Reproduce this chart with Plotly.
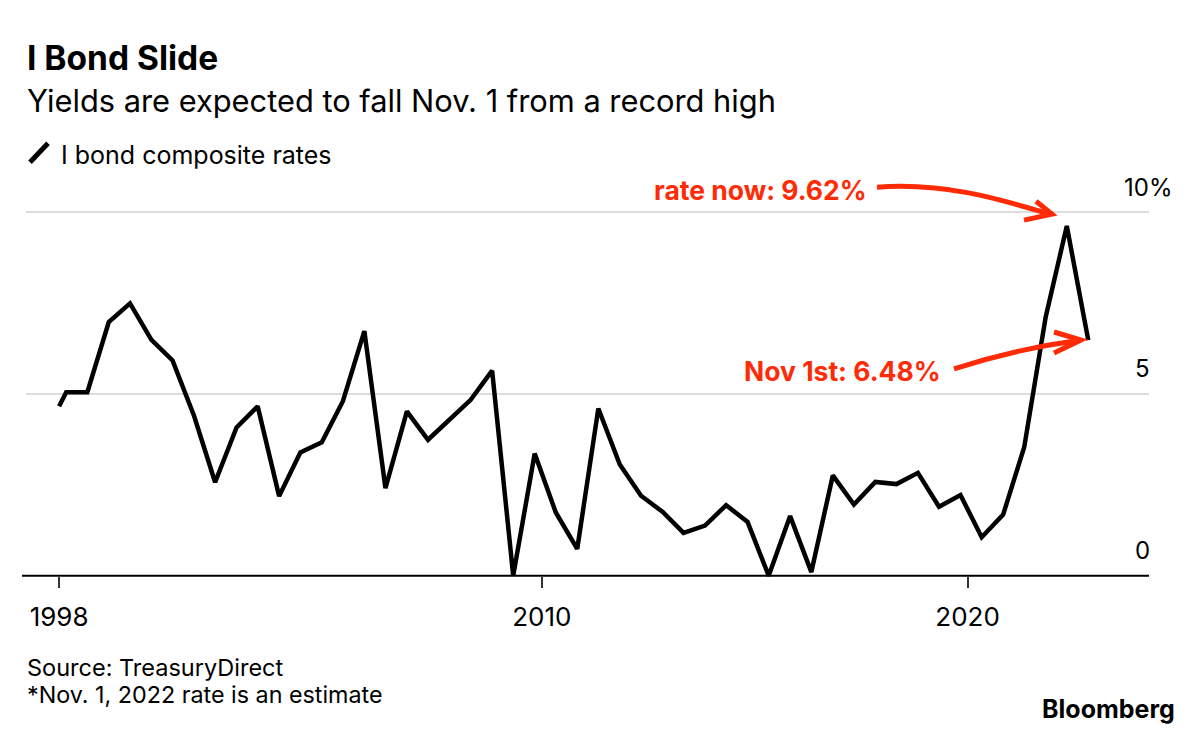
import plotly.graph_objects as go

# ---------------- data ----------------
dates = [
    "1998-09-01", "1998-11-01",
    "1999-05-01", "1999-11-01", "2000-05-01", "2000-11-01",
    "2001-05-01", "2001-11-01", "2002-05-01", "2002-11-01",
    "2003-05-01", "2003-11-01", "2004-05-01", "2004-11-01",
    "2005-05-01", "2005-11-01", "2006-05-01", "2006-11-01",
    "2007-05-01", "2007-11-01", "2008-05-01", "2008-11-01",
    "2009-05-01", "2009-11-01", "2010-05-01", "2010-11-01",
    "2011-05-01", "2011-11-01", "2012-05-01", "2012-11-01",
    "2013-05-01", "2013-11-01", "2014-05-01", "2014-11-01",
    "2015-05-01", "2015-11-01", "2016-05-01", "2016-11-01",
    "2017-05-01", "2017-11-01", "2018-05-01", "2018-11-01",
    "2019-05-01", "2019-11-01", "2020-05-01", "2020-11-01",
    "2021-05-01", "2021-11-01", "2022-05-01", "2022-11-01",
]
rates = [
    4.66, 5.05,
    5.05, 6.98, 7.49, 6.49,
    5.92, 4.40, 2.57, 4.08,
    4.66, 2.19, 3.39, 3.67,
    4.80, 6.73, 2.41, 4.52,
    3.74, 4.28, 4.84, 5.64,
    0.00, 3.36, 1.74, 0.74,
    4.60, 3.06, 2.20, 1.76,
    1.18, 1.38, 1.94, 1.48,
    0.00, 1.64, 0.10, 2.76,
    1.96, 2.58, 2.52, 2.83,
    1.90, 2.22, 1.06, 1.68,
    3.54, 7.12, 9.62, 6.48,
]
x_tick_vals = ["1998-09-01", "2010-01-01", "2020-01-01"]
x_tick_text = ["1998", "2010", "2020"]
y_tick_vals = [0, 5, 10]
y_tick_text = ["0", "5", "10%"]

FONT = "Inter"
RED = "#ff2a06"

# ---------------- layout geometry (pixels) ----------------
W, H = 1200, 731
L, R = 26, 1149          # plot left/right
TOP, BOT = 193.8, 583.3  # plot top/bottom
Y0, Y1 = -0.2, 10.5


def px(xp):
    return (xp - L) / (R - L)


def py(yp):
    return (BOT - yp) / (BOT - TOP)


fig = go.Figure()
fig.add_trace(go.Scatter(
    x=dates, y=rates, mode="lines",
    line=dict(color="black", width=4.5),
    name="I bond composite rates", showlegend=False,
    hoverinfo="x+y",
))

annotations = []
# title / subtitle / legend / footer
annotations.append(dict(text="<b>I Bond Slide</b>", x=px(25), y=py(58), xref="paper", yref="paper",
                        xanchor="left", yanchor="middle", showarrow=False,
                        font=dict(family=FONT, size=33.5, color="black")))
annotations.append(dict(text="Yields are expected to fall Nov. 1 from a record high", x=px(25), y=py(100),
                        xref="paper", yref="paper", xanchor="left", yanchor="middle", showarrow=False,
                        font=dict(family=FONT, size=30.8, color="black")))
annotations.append(dict(text="I bond composite rates", x=px(59), y=py(155), xref="paper", yref="paper",
                        xanchor="left", yanchor="middle", showarrow=False,
                        font=dict(family=FONT, size=25, color="black")))
annotations.append(dict(text="Source: TreasuryDirect", x=px(25), y=py(668), xref="paper", yref="paper",
                        xanchor="left", yanchor="middle", showarrow=False,
                        font=dict(family=FONT, size=23.5, color="black")))
annotations.append(dict(text="*Nov. 1, 2022 rate is an estimate", x=px(25), y=py(695), xref="paper", yref="paper",
                        xanchor="left", yanchor="middle", showarrow=False,
                        font=dict(family=FONT, size=23.3, color="black")))
annotations.append(dict(text="<b>Bloomberg</b>", x=px(1177), y=py(709), xref="paper", yref="paper",
                        xanchor="right", yanchor="middle", showarrow=False,
                        font=dict(family=FONT, size=25, color="black")))

# y-axis labels (right side, above gridlines)
for v, t in zip(y_tick_vals, y_tick_text):
    if t.endswith("%"):
        ann = dict(text=t, x=px(1174), xanchor="right")
    else:
        ann = dict(text=t, x=px(1152), xanchor="right")
    ann.update(y=v, xref="paper", yref="y", yanchor="middle", yshift=25, showarrow=False,
               font=dict(family=FONT, size=24, color="black"))
    annotations.append(ann)

# red call-outs
annotations.append(dict(text="<b>rate now: 9.62%</b>", x=px(869), y=py(190), xref="paper", yref="paper",
                        xanchor="right", yanchor="middle", showarrow=False,
                        font=dict(family=FONT, size=26.5, color=RED)))
annotations.append(dict(text="<b>Nov 1st: 6.48%</b>", x=px(943), y=py(371), xref="paper", yref="paper",
                        xanchor="right", yanchor="middle", showarrow=False,
                        font=dict(family=FONT, size=26.5, color=RED)))


def path(points, cmd):
    s = []
    for c, (a, b) in zip(cmd, points):
        s.append(f"{c} {px(a):.5f},{py(b):.5f}".strip())
    return " ".join(s)


shapes = []
# legend slash
shapes.append(dict(type="line", xref="paper", yref="paper", x0=px(30), y0=py(162), x1=px(48), y1=py(143),
                   line=dict(color="black", width=5)))
# arrow 1 (curved)
shapes.append(dict(type="path", xref="paper", yref="paper",
                   path=path([(877, 187), (945, 182), (1000, 199), (1050, 214)], ["M", "C", "", ""]),
                   line=dict(color=RED, width=5)))
shapes.append(dict(type="path", xref="paper", yref="paper",
                   path=path([(1036, 201), (1052, 214), (1024, 220)], ["M", "L", "L"]),
                   line=dict(color=RED, width=5)))
# arrow 2
shapes.append(dict(type="path", xref="paper", yref="paper",
                   path=path([(954, 369), (1015, 349), (1081, 340)], ["M", "Q", ""]),
                   line=dict(color=RED, width=5)))
shapes.append(dict(type="path", xref="paper", yref="paper",
                   path=path([(1054, 332), (1081, 340), (1054, 353)], ["M", "L", "L"]),
                   line=dict(color=RED, width=5)))
# baseline at zero (slightly longer to the left)
shapes.append(dict(type="line", xref="paper", yref="y", x0=px(22), x1=1, y0=0, y1=0,
                   line=dict(color="black", width=2), layer="below"))

fig.update_layout(
    width=W, height=H,
    margin=dict(l=L, r=W - R, t=TOP, b=H - BOT, pad=0),
    paper_bgcolor="white", plot_bgcolor="white",
    font=dict(family=FONT, color="black"),
    annotations=annotations, shapes=shapes,
    xaxis=dict(
        type="date",
        range=["1997-11-21", "2024-04-05"],
        tickvals=x_tick_vals, ticktext=x_tick_text,
        ticks="outside", ticklen=11, tickwidth=1.5, tickcolor="#333333",
        showgrid=False, zeroline=False, showline=False,
        anchor="free", position=(0 - Y0) / (Y1 - Y0),
        tickfont=dict(family=FONT, size=26, color="black"),
        ticklabelstandoff=7,
    ),
    yaxis=dict(
        range=[Y0, Y1],
        tickvals=[5, 10], showticklabels=False,
        showgrid=True, gridcolor="#dcdcdc", gridwidth=1.5,
        zeroline=False, showline=False, ticks="",
    ),
    hovermode="closest",
)

fig.write_html("out.html", config={"displayModeBar": False},
               post_script="document.body.style.margin='0px';")
